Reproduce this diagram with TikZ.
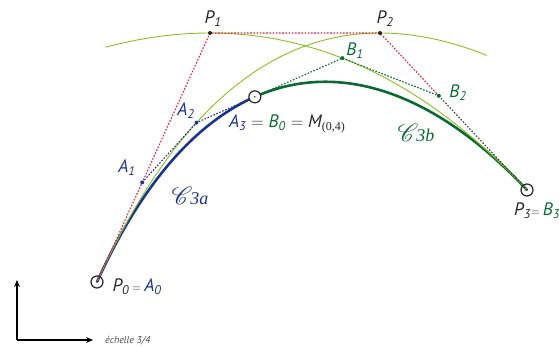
\documentclass[tikz,border=0pt]{standalone}
\usepackage{fontspec}
\setmainfont{PT Sans}
\newfontfamily\serifrm{Liberation Serif}
\usepackage{mathrsfs}
\usetikzlibrary{calc,arrows.meta}

\definecolor{bluecurve}{RGB}{28,52,140}
\definecolor{greencurve}{RGB}{12,105,52}
\definecolor{lightgreen}{RGB}{140,190,40}
\definecolor{reddot}{RGB}{232,32,62}

\begin{document}
\begin{tikzpicture}[x=1pt, y=1pt,
    dotline/.style={line width=1.1pt, dash pattern=on 1.6pt off 1.6pt},
    trace/.style={draw=lightgreen, line width=0.9pt},
    arc/.style={line width=2.6pt},
    ring/.style={draw=black!85, line width=1.2pt},
    lbl/.style={font=\fontsize{18}{20}\selectfont\itshape, inner sep=0pt},
    curvename/.style={inner sep=0pt, font=\fontsize{29}{29}\selectfont}]

    \useasboundingbox (0,0) rectangle (559,346);

    % Control points
    \coordinate (P0) at (97,64);
    \coordinate (P1) at (210,313);
    \coordinate (P2) at (380,313);
    \coordinate (P3) at (527,156);

    % Subdivision at t = 0.4
    \coordinate (A1) at ($(P0)!0.4!(P1)$);
    \coordinate (Q)  at ($(P1)!0.4!(P2)$);
    \coordinate (B2) at ($(P2)!0.4!(P3)$);
    \coordinate (A2) at ($(A1)!0.4!(Q)$);
    \coordinate (B1) at ($(Q)!0.4!(B2)$);
    \coordinate (M)  at ($(A2)!0.4!(B1)$);

    % Sub-arcs
    \draw[arc, bluecurve] (P0) .. controls (A1) and (A2) .. (M);
    \draw[arc, greencurve] (M) .. controls (B1) and (B2) .. (P3);

    % Traces of A2 and B1
    \draw[trace] plot[domain=0:1.3, samples=60, variable=\t]
        ({(1-(\t))*(1-(\t))*97+2*(\t)*(1-(\t))*210+(\t)*(\t)*380},
         {(1-(\t))*(1-(\t))*64+2*(\t)*(1-(\t))*313+(\t)*(\t)*313});
    \draw[trace] plot[domain=-0.3:1, samples=60, variable=\t]
        ({(1-(\t))*(1-(\t))*210+2*(\t)*(1-(\t))*380+(\t)*(\t)*527},
         {(1-(\t))*(1-(\t))*313+2*(\t)*(1-(\t))*313+(\t)*(\t)*156});

    % Control polygons
    \draw[dotline, reddot] (P0) -- (P1) -- (P2) -- (B2);
    \draw[dotline, black!75] (B2) -- (P3);
    \draw[dotline, bluecurve] (A1) -- (A2) -- (M);
    \draw[dotline, greencurve] (M) -- (B1) -- (B2);

    % Points
    \foreach \p in {P1,P2} \fill[black!85] (\p) circle (2);
    \foreach \p in {A1,A2} \fill[bluecurve] (\p) circle (2);
    \foreach \p in {B1,B2} \fill[greencurve] (\p) circle (2);
    \draw[ring, fill=white] (M) circle (6);
    \foreach \p in {P0,P3} \draw[ring] (\p) circle (6);
    \foreach \p in {P0,M,P3} \fill[black!85] (\p) circle (0.8);

    % Labels
    \node[lbl, black!85] (lP1) at (213,327) {P\textsubscript{1}};
    \node[lbl, black!85] (lP2) at (385,327) {P\textsubscript{2}};
    \node[lbl, greencurve] (lB1) at (355,295) {B\textsubscript{1}};
    \node[lbl, greencurve] (lB2) at (458,253) {B\textsubscript{2}};
    \node[lbl, bluecurve] (lA1) at (127,178) {A\textsubscript{1}};
    \node[lbl, bluecurve] (lA2) at (186,235) {A\textsubscript{2}};
    \node[lbl, black!85] (lM) at (287,222) {\textcolor{bluecurve}{A\textsubscript{3}}\;$=$\;\textcolor{greencurve}{B\textsubscript{0}}\;$=$\;M{\fontsize{12}{12}\selectfont\raisebox{-3pt}{\serifrm\upshape(0,4)}}};
    \node[lbl, black!85] (lP0) at (137,59) {P\textsubscript{0}\,{\fontsize{13}{13}\selectfont$=$}\,\textcolor{bluecurve}{A\textsubscript{0}}};
    \node[lbl, black!85, anchor=west] (lP3) at (514,135) {P\textsubscript{3}{\fontsize{13}{13}\selectfont$=$}\,\textcolor{greencurve}{B\textsubscript{3}}};
    \node[curvename, bluecurve] (lCa) at (190,150) {$\mathscr{C}$\kern-2pt{\fontsize{18}{18}\selectfont\serifrm\itshape 3a}};
    \node[curvename, greencurve] (lCb) at (416,213) {$\mathscr{C}$\kern-2pt{\fontsize{18}{18}\selectfont\serifrm\itshape 3b}};

    % Axes
    \coordinate (O) at (17,6);
    \coordinate (Oy) at (17,66);
    \coordinate (Ox) at (93,6);
    \draw[-{Stealth[length=7pt, width=6pt]}, line width=1.2pt] (O) -- (Oy);
    \draw[-{Stealth[length=7pt, width=6pt]}, line width=1.2pt] (O) -- (Ox);
    \node[font=\fontsize{10}{11}\selectfont\itshape, black!70, anchor=west, inner sep=0pt] (lscale) at (105,5) {échelle 3/4};
\end{tikzpicture}
\end{document}
